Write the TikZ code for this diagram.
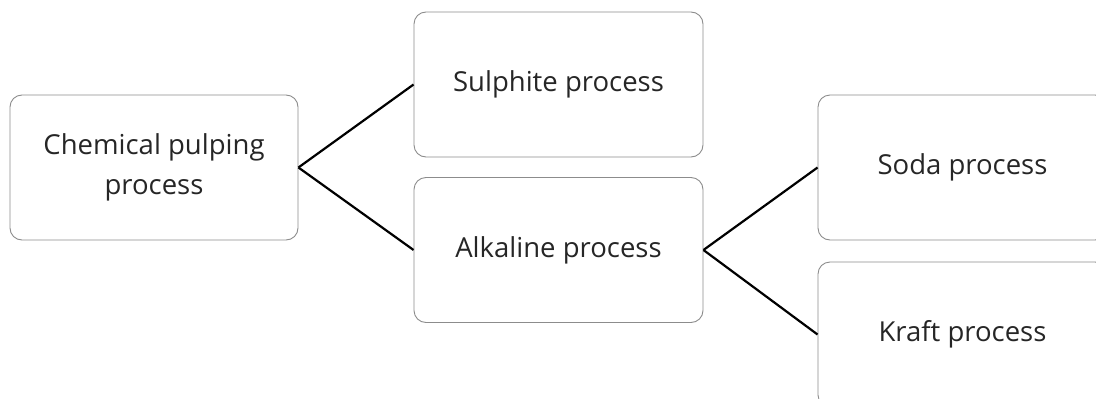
\documentclass[tikz,border=0pt]{standalone}
\usepackage{fontspec}
\setmainfont{Open Sans}
\definecolor{boxgray}{HTML}{8C8C8C}
\begin{document}
\begin{tikzpicture}[x=1pt,y=-1pt,
  box/.style={draw=boxgray, line width=0.9pt, rounded corners=12pt,
    minimum width=289pt, minimum height=145pt, align=center,
    font=\fontsize{27.5}{40}\selectfont, inner sep=0pt, text=black!85},
  link/.style={line width=2.2pt, black}]
\useasboundingbox (0,0) rectangle (1096,399);
\clip (0,0) rectangle (1096,399);
\node[box, minimum width=288pt] (chem) at (154,167.5) {Chemical pulping\\process};
\node[box] (sul) at (558.5,84.5) {Sulphite process};
\node[box] (alk) at (558.5,250) {Alkaline process};
\node[box] (soda) at (962.5,167.5) {Soda process};
\node[box] (kraft) at (962.5,334.5) {Kraft process};
\draw[link] (chem.east) -- (sul.west);
\draw[link] (chem.east) -- (alk.west);
\draw[link] (alk.east) -- (soda.west);
\draw[link] (alk.east) -- (kraft.west);
\end{tikzpicture}
\end{document}
